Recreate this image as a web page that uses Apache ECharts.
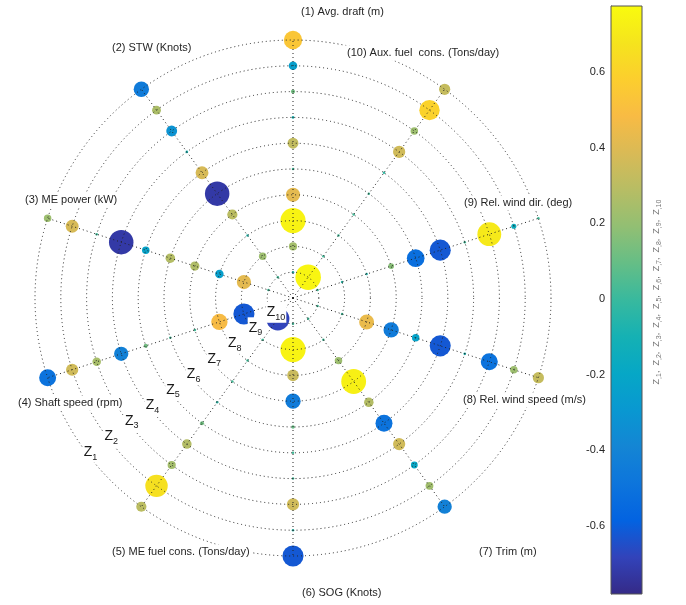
<!DOCTYPE html>
<html>
<head>
<meta charset="utf-8">
<script src="https://cdn.jsdelivr.net/npm/echarts@6/dist/echarts.min.js"></script>
<style>
  html, body { margin: 0; padding: 0; background: #fff; }
  #chart { width: 686px; height: 605px; }
</style>
</head>
<body>
<div id="chart"></div>
<script>
// variables on the spokes, counter-clockwise from the top
const variables = ['(1) Avg. draft (m)', '(2) STW (Knots)', '(3) ME power (kW)', '(4) Shaft speed (rpm)',
  '(5) ME fuel cons. (Tons/day)', '(6) SOG (Knots)', '(7) Trim (m)', '(8) Rel. wind speed (m/s)',
  '(9) Rel. wind dir. (deg)', '(10) Aux. fuel  cons. (Tons/day)']
const rings = ['1', '2', '3', '4', '5', '6', '7', '8', '9', '10']

// one value per variable on each ring (Z1 = outer ring)
const z1 = [0.54, -0.45, 0.22, -0.5, 0.3, -0.62, -0.42, 0.33, 0.02, 0.33]
const z2 = [-0.25, 0.26, 0.38, 0.36, 0.66, -0.05, 0.23, 0.22, -0.15, 0.6]
const z3 = [0.12, -0.32, 0.02, 0.25, 0.24, 0.36, -0.2, -0.5, 0.7, 0.22]
const z4 = [-0.08, -0.08, -0.72, -0.42, 0.28, 0.02, 0.36, -0.08, 0.02, 0.36]
const z5 = [0.32, 0.38, -0.22, 0.12, 0.12, 0.02, -0.5, -0.62, -0.62, -0.02]
const z6 = [0.02, -0.72, 0.28, 0.02, -0.04, 0.1, 0.28, -0.22, -0.52, 0.02]
const z7 = [0.42, 0.3, 0.27, 0.02, 0.02, -0.45, 0.73, -0.45, 0.17, 0.02]
const z8 = [0.74, -0.05, -0.25, 0.48, 0.02, 0.34, 0.22, 0.44, -0.05, 0.02]
const z9 = [0.24, 0.22, 0.42, -0.62, 0.02, 0.74, 0.02, 0.02, -0.04, 0.02]
const z10 = [-0.06, 0.02, 0.02, 0.02, -0.68, 0.02, 0.02, 0.02, 0.02, 0.75]
const zRows = [z1, z2, z3, z4, z5, z6, z7, z8, z9, z10]

// colour bar
const cMin = -0.78
const cMax = 0.775
const cTicks = [-0.6, -0.4, -0.2, 0, 0.2, 0.4, 0.6]

// parula
const parula = ['#352a87', '#3243ba', '#0363e1', '#0d75dc', '#1485d4', '#0998d1', '#06a7c6', '#15b1b4',
  '#38b99e', '#65be86', '#92bf73', '#b7bd64', '#d9ba56', '#f8bb44', '#fcce2e', '#f5e41d', '#f9fb0e']

const font = '"Liberation Sans", Arial, Helvetica, sans-serif'
const dots = [1, 3]
const step = 36

const bubbles = []
zRows.forEach((row, k) => {
  row.forEach((v, i) => bubbles.push([10 - k, i * step, v]))
})

// spokes go out past the outer ring
const spokes = variables.map((name, i) => ({
  type: 'line',
  coordinateSystem: 'polar',
  data: [[0, i * step], [i === 0 || i === 5 ? 12 : 11.5, i * step]],
  symbol: 'none',
  clip: false,
  silent: true,
  z: 3,
  lineStyle: { color: '#222', width: 1, type: dots }
}))

const zLabels = rings.map((r, k) => [10 - k - 0.08, 127, r])

const myChart = echarts.init(document.getElementById('chart'))
myChart.setOption({
  animation: false,
  polar: { center: [293, 298], radius: 258 },
  angleAxis: {
    type: 'value', min: 0, max: 360, startAngle: 90, clockwise: false,
    axisLine: { show: false }, axisTick: { show: false }, axisLabel: { show: false },
    splitLine: { show: false }
  },
  radiusAxis: {
    type: 'value', min: 0, max: 10, interval: 1, z: 3,
    axisLine: { show: false }, axisTick: { show: false }, axisLabel: { show: false },
    splitLine: { show: true, lineStyle: { color: '#222', width: 1, type: dots } }
  },
  grid: { left: 611, top: 6, width: 31, height: 588, show: true, borderColor: '#555', borderWidth: 1, z: 4 },
  xAxis: { type: 'value', min: 0, max: 1, show: false },
  yAxis: {
    type: 'value', min: cMin, max: cMax, position: 'left',
    axisLine: { show: true, lineStyle: { color: '#555' } },
    axisTick: { show: true, inside: true, length: 5, customValues: cTicks, lineStyle: { color: '#444' } },
    axisLabel: { customValues: cTicks, color: '#262626', fontFamily: font, fontSize: 11, margin: 6 },
    splitLine: { show: false }
  },
  visualMap: {
    type: 'continuous', show: false, seriesIndex: 10, dimension: 2,
    min: cMin, max: cMax, inRange: { color: parula }
  },
  series: [
    ...spokes,
    {
      type: 'scatter',
      coordinateSystem: 'polar',
      data: bubbles,
      symbolSize: (val) => Math.max(2.5, 34 * Math.abs(val[2])),
      itemStyle: { opacity: 1 },
      z: 2
    },
    {
      type: 'scatter',
      coordinateSystem: 'polar',
      data: zLabels,
      symbolSize: 0,
      silent: true,
      z: 6,
      itemStyle: { opacity: 1 },
      label: {
        show: true,
        position: 'inside',
        offset: [2, 0],
        formatter: (p) => 'Z{s|' + p.value[2] + '}',
        fontFamily: font,
        fontSize: 14,
        color: '#1a1a1a',
        backgroundColor: '#fff',
        padding: [1, 1],
        rich: { s: { fontSize: 9, fontFamily: font, color: '#1a1a1a', padding: [10, 0, 0, 0] } }
      }
    },
    {
      type: 'custom',
      xAxisIndex: 0,
      yAxisIndex: 0,
      data: [[0, cMin, 1, cMax]],
      silent: true,
      z: 1,
      renderItem: (params, api) => {
        const p0 = api.coord([api.value(0), api.value(3)])
        const p1 = api.coord([api.value(2), api.value(1)])
        return {
          type: 'rect',
          shape: { x: p0[0], y: p0[1], width: p1[0] - p0[0], height: p1[1] - p0[1] },
          style: {
            fill: new echarts.graphic.LinearGradient(0, 1, 0, 0,
              parula.map((c, i) => ({ offset: i / (parula.length - 1), color: c })))
          }
        }
      }
    }
  ],
  graphic: [
    ...[[299, 12], [110, 48], [23, 200], [16, 403], [110, 552], [300, 593], [477, 552], [461, 400], [462, 203], [345, 53]]
      .map((pos, i) => ({
        type: 'text',
        x: pos[0], y: pos[1], z: 20,
        style: {
          text: variables[i], font: '11px ' + font, fill: '#262626',
          verticalAlign: 'middle', align: 'left',
          backgroundColor: '#fff', padding: [2, 2]
        }
      })),
    {
      type: 'text',
      x: 657, y: 292, rotation: Math.PI / 2, z: 20,
      style: {
        text: rings.map((r, i) => 'Z{s|,' + r + '}' + (i < rings.length - 1 ? ',  ' : '')).join(''),
        font: '9px ' + font, fill: '#777', align: 'center', verticalAlign: 'middle',
        rich: { s: { font: '7px ' + font, fill: '#777', padding: [5, 0, 0, 0] } }
      }
    }
  ]
})
</script>
</body>
</html>
